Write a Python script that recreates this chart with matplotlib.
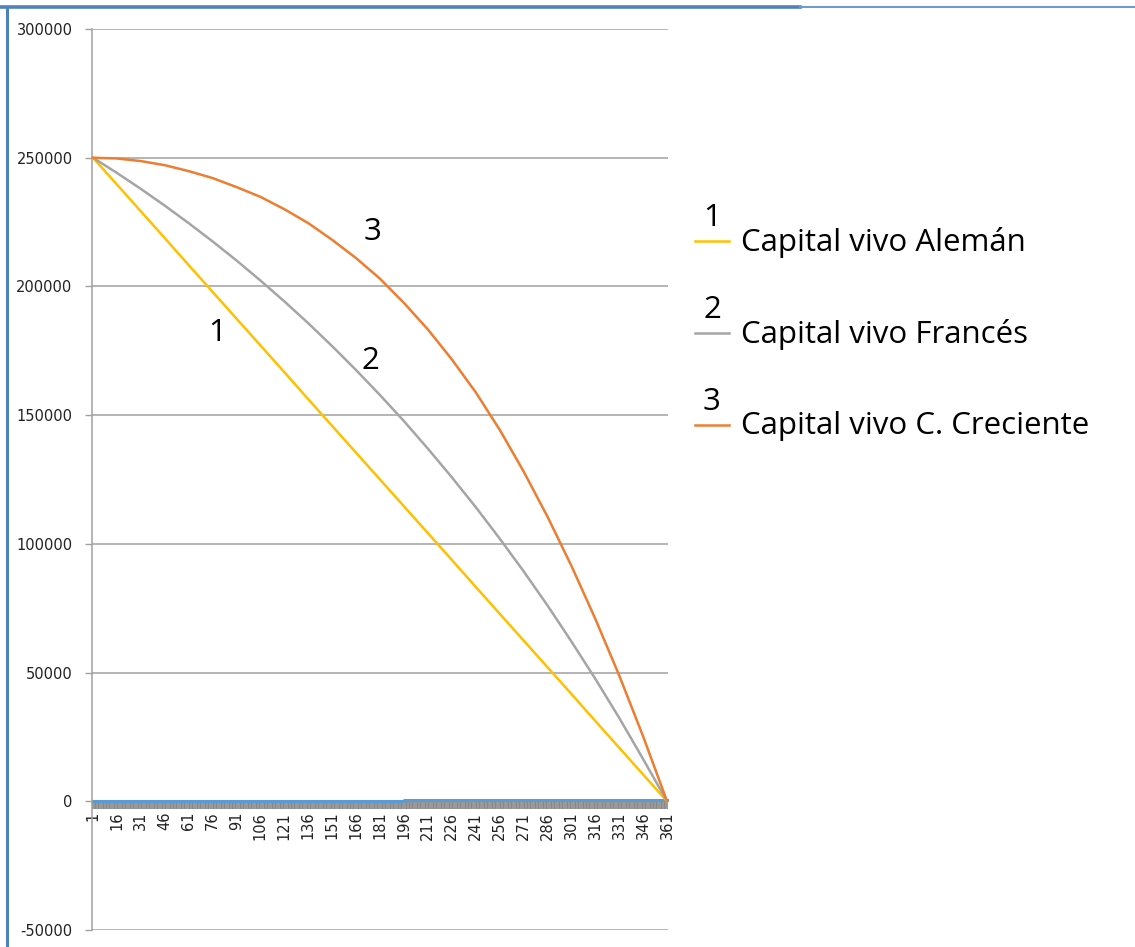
"""Capital vivo: Alemán vs Francés vs cuota creciente."""

import matplotlib
matplotlib.use("Agg")
import matplotlib.pyplot as plt
from matplotlib.lines import Line2D

# periods shown as labels on the category axis (every 15th of 361)
periodos = [1, 16, 31, 46, 61, 76, 91, 106, 121, 136, 151, 166, 181,
            196, 211, 226, 241, 256, 271, 286, 301, 316, 331, 346, 361]
n_periodos = 361

# outstanding capital read at those periods
aleman = [250000, 239600, 229200, 218800, 208300, 197900, 187500, 177100,
          166700, 156200, 145800, 135400, 125000, 114600, 104200, 93800,
          83300, 72900, 62500, 52100, 41700, 31200, 20800, 10400, 0]
frances = [250000, 244100, 237900, 231400, 224600, 217500, 210100, 202300,
           194200, 185700, 176800, 167500, 157800, 147700, 137000, 125900,
           114300, 102100, 89400, 76100, 62100, 47600, 32400, 16400, 0]
creciente = [250000, 249700, 248700, 247100, 244800, 242100, 238600, 234800,
             230000, 224600, 218100, 211000, 203000, 193600, 183300, 171700,
             158900, 144400, 128200, 110600, 91500, 70900, 48900, 25200, 0]
# unnamed series hugging zero
otra = [0, 0, 0, 0, 0, 0, 0, 0, 0, 0, 0, 0, 0,
        500, 500, 500, 500, 500, 500, 500, 500, 500, 500, 500, 500]

nombres = ["Capital vivo Alemán", "Capital vivo Francés",
           "Capital vivo C. Creciente"]
colores = ["#FFC000", "#A5A5A5", "#ED7D31"]
y_ticks = [-50000, 0, 50000, 100000, 150000, 200000, 250000, 300000]

W, H = 1135, 947
fig = plt.figure(figsize=(W / 100, H / 100), dpi=100)
ax = fig.add_axes([92 / W, 1 - 930 / H, 576 / W, 901 / H])

grid_c = "#a0a0a0"
for y in y_ticks:
    ax.axhline(y, color=grid_c, lw=1.1, zorder=0)

ax.plot(periodos, otra, color="#5B9BD5", lw=2.2, drawstyle="steps-post",
        zorder=2, clip_on=False)
for serie, col in zip([aleman, frances, creciente], colores):
    ax.plot(periodos, serie, color=col, lw=1.8, zorder=3, clip_on=False)

ax.set_xlim(0.4, 361.6)
ax.set_ylim(-50000, 300000)

ax.set_yticks(y_ticks)
ax.set_yticklabels([str(v) for v in y_ticks])
ax.tick_params(axis="y", length=5, width=1, color=grid_c, pad=9,
               labelsize=10.5, labelcolor="#222222")

ax.spines["bottom"].set_position(("data", 0))
ax.set_xticks(periodos)
ax.set_xticklabels([str(p) for p in periodos], rotation=90, va="top")
ax.set_xticks(range(1, n_periodos + 1), minor=True)
ax.tick_params(axis="x", which="both", length=6, width=1.2,
               color="#858585", direction="out")
ax.tick_params(axis="x", pad=1.5, labelsize=10.5, labelcolor="#222222")

for side in ["top", "right", "bottom"]:
    ax.spines[side].set_visible(False)
ax.spines["left"].set_color(grid_c)
ax.spines["left"].set_linewidth(1.1)

# series numbers on the curves
fuente = "Open Sans"
fs = 22.5
for txt, xc, yc in [("1", 79, 182000), ("2", 175, 171000), ("3", 176, 221000)]:
    ax.text(xc, yc, txt, fontsize=fs, family=fuente, ha="center",
            va="center", color="black")

# legend with numbers above the line samples
for i, (nom, col) in enumerate(zip(nombres, colores)):
    yl = 241 + i * 92
    fig.add_artist(Line2D([695 / W, 729 / W], [1 - yl / H, 1 - yl / H],
                          color=col, lw=1.8, transform=fig.transFigure))
    fig.text(712 / W, 1 - (yl - 23) / H, str(i + 1), fontsize=fs,
             family=fuente, ha="center", va="center")
    fig.text(741 / W, 1 - (yl + 1) / H, nom, fontsize=fs, family=fuente,
             ha="left", va="center")

# window frame from the screenshot
frame_c = "#4F81BD"
fig.add_artist(Line2D([0, 800 / W], [1 - 7.5 / H, 1 - 7.5 / H],
                      color=frame_c, lw=2.6, transform=fig.transFigure))
fig.add_artist(Line2D([800 / W, 1], [1 - 7 / H, 1 - 7 / H],
                      color="#6B9BD2", lw=1.4, transform=fig.transFigure))
fig.add_artist(Line2D([7 / W, 7 / W], [0, 1 - 7.5 / H], color=frame_c,
                      lw=2.2, transform=fig.transFigure))

fig.savefig("out.png", dpi=100)
